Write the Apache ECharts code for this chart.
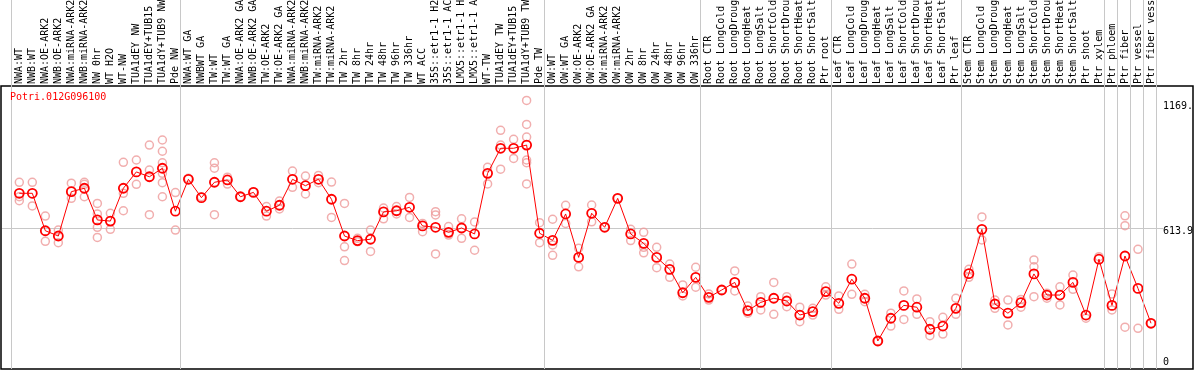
<!DOCTYPE html>
<html>
<head>
<meta charset="utf-8">
<script src="https://cdn.jsdelivr.net/npm/echarts@6/dist/echarts.min.js"></script>
<style>
html, body { margin: 0; padding: 0; background: #fff; }
#chart { width: 1194px; height: 370px; }
</style>
</head>
<body>
<div id="chart"></div>
<script>
const geneId = 'Potri.012G096100';

const categories = [
  'NWA:WT', 'NWB:WT', 'NWA:OE-ARK2', 'NWB:OE-ARK2', 'NWA:miRNA-ARK2', 'NWB:miRNA-ARK2',
  'NW 0hr', 'WT H2O', 'WT-NW', 'TUA1dEY NW', 'TUA1dEY+TUB15 NW', 'TUA1dY+TUB9 NW', 'Pde NW',
  'NWA:WT GA', 'NWBWT GA', 'TW:WT', 'TW:WT GA', 'NWA:OE-ARK2 GA', 'NWB:OE-ARK2 GA',
  'TW:OE-ARK2', 'TW:OE-ARK2 GA', 'NWA:miRNA-ARK2 GA', 'NWB:miRNA-ARK2 GA', 'TW:miRNA-ARK2',
  'TW:miRNA-ARK2 GA', 'TW 2hr', 'TW 8hr', 'TW 24hr', 'TW 48hr', 'TW 96hr', 'TW 336hr', 'WT ACC',
  '35S::etr1-1 H2O', '35S::etr1-1 ACC', 'LMX5::etr1-1 H2O', 'LMX5::etr1-1 ACC', 'WT-TW',
  'TUA1dEY TW', 'TUA1dEY+TUB15 TW', 'TUA1dY+TUB9 TW', 'Pde TW',
  'OW:WT', 'OW:WT GA', 'OW:OE-ARK2', 'OW:OE-ARK2 GA', 'OW:miRNA-ARK2', 'OW:miRNA-ARK2 GA',
  'OW 2hr', 'OW 8hr', 'OW 24hr', 'OW 48hr', 'OW 96hr', 'OW 336hr',
  'Root CTR', 'Root LongCold', 'Root LongDrought', 'Root LongHeat', 'Root LongSalt',
  'Root ShortCold', 'Root ShortDrought', 'Root ShortHeat', 'Root ShortSalt', 'Ptr root',
  'Leaf CTR', 'Leaf LongCold', 'Leaf LongDrought', 'Leaf LongHeat', 'Leaf LongSalt',
  'Leaf ShortCold', 'Leaf ShortDrought', 'Leaf ShortHeat', 'Leaf ShortSalt', 'Ptr leaf',
  'Stem CTR', 'Stem LongCold', 'Stem LongDrought', 'Stem LongHeat', 'Stem LongSalt',
  'Stem ShortCold', 'Stem ShortDrought', 'Stem ShortHeat', 'Stem ShortSalt', 'Ptr shoot',
  'Ptr xylem', 'Ptr phloem', 'Ptr fiber', 'Ptr vessel', 'Ptr fiber vessel'
];

// mean expression per sample
const meanValues = [
  765, 765, 602, 579, 772, 787, 649, 644, 787, 858,
  837, 874, 687, 826, 746, 813, 823, 750, 769, 687,
  713, 826, 798, 826, 739, 579, 559, 565, 684, 689,
  704, 623, 617, 595, 614, 588, 852, 961, 961, 975,
  591, 560, 675, 486, 678, 617, 743, 588, 547, 486,
  434, 332, 399, 312, 344, 377, 254, 290, 308, 296,
  235, 250, 337, 286, 391, 308, 122, 221, 277, 269,
  173, 187, 264, 415, 608, 283, 243, 289, 414, 322,
  322, 377, 235, 478, 277, 492, 351, 199
];

// individual replicates per sample
const replicateValues = [
  [813, 750, 733], [813, 710], [666, 556], [605, 550], [809, 743], [813, 804, 750],
  [721, 675, 617, 573], [678, 608], [900, 765, 689], [910, 804], [975, 866, 672],
  [997, 948, 898, 852, 811, 750], [768, 605],
  [830], [750], [898, 874, 672], [835, 805], [750], [772], [707, 666], [731, 697],
  [862, 791], [840, 762], [843, 811], [814, 660], [721, 532, 472], [569, 554], [605, 512],
  [701, 654], [707, 675], [747, 660], [634, 598], [685, 671, 501], [620, 583], [654, 569],
  [640, 517], [878, 806], [1039, 975, 870], [1000, 917], [1169.4, 1065, 1010, 910, 898, 806],
  [637, 550],
  [652, 540, 495], [713, 634], [526, 445], [714, 641], [617], [743], [608, 559],
  [595, 530, 506], [530, 441], [457, 399], [366, 318], [443, 356],
  [327, 300], [344], [427, 340], [274, 243], [315, 257], [377, 238], [315, 271],
  [269, 206], [264, 235], [358, 322],
  [318, 260], [457, 325], [325, 293], [122], [243, 187], [340, 216], [305, 238],
  [206, 145], [225, 152], [308, 238],
  [434, 399], [662, 562], [300, 264], [300, 192], [303, 269], [475, 445, 315], [330, 308],
  [358, 279], [409, 347], [221],
  [489], [327, 257], [667, 624, 182], [521, 177], [199]
];

// number of samples in each experiment block
const groupSizes = [13, 28, 12, 10, 10, 11, 1, 1, 1, 1];

const axisMax = 1227.8;

const maxValue = Math.max.apply(null, meanValues.concat([].concat.apply([], replicateValues)));

const repData = [];
replicateValues.forEach(function (arr, i) {
  arr.forEach(function (v) { repData.push([i, v]); });
});

const boundaries = [-0.5];
let acc = 0;
groupSizes.forEach(function (s) { acc += s; boundaries.push(acc - 0.5); });

const mono = 'DejaVu Sans Mono';
const bandLeft = 12.8;
const bandWidth = 13.008 * categories.length;

const chart = echarts.init(document.getElementById('chart'));

const option = {
  animation: false,
  backgroundColor: '#fff',
  title: {
    text: geneId,
    left: 10,
    top: 92,
    padding: 0,
    textStyle: { color: '#ff0000', fontFamily: mono, fontSize: 10, fontWeight: 'normal' }
  },
  grid: [
    // frame
    { left: 1, right: 1, top: 86, bottom: 1, show: true, borderColor: '#000', borderWidth: 1.5,
      backgroundColor: 'transparent', outerBoundsMode: 'none' },
    // group separators (run through the label area)
    { left: bandLeft - 1.5, width: bandWidth, top: 0, bottom: 1, outerBoundsMode: 'none' },
    // middle grid line
    { left: 2, right: 31, top: 87, bottom: 1, outerBoundsMode: 'none' },
    // data
    { left: bandLeft, width: bandWidth, top: 87, bottom: 1, outerBoundsMode: 'none' }
  ],
  xAxis: [
    { gridIndex: 0, type: 'value', show: false },
    { gridIndex: 1, type: 'value', min: -0.5, max: categories.length - 0.5, show: false },
    { gridIndex: 2, type: 'value', show: false },
    {
      gridIndex: 3,
      type: 'category',
      data: categories,
      position: 'top',
      boundaryGap: true,
      axisLine: { show: false },
      axisTick: { show: false },
      splitLine: { show: false },
      axisLabel: {
        interval: 0,
        rotate: 90,
        margin: 3,
        hideOverlap: false,
        color: '#000',
        fontFamily: mono,
        fontSize: 10
      }
    }
  ],
  yAxis: [
    { gridIndex: 0, type: 'value', show: false },
    { gridIndex: 1, type: 'value', min: 0, max: 1, show: false },
    {
      gridIndex: 2,
      type: 'value',
      min: 0,
      max: axisMax,
      interval: axisMax / 2,
      axisLine: { show: false },
      axisTick: { show: false },
      axisLabel: { show: false },
      splitLine: { show: true, showMinLine: false, showMaxLine: false,
        lineStyle: { color: '#c8c8c8', width: 1 } }
    },
    {
      gridIndex: 3,
      type: 'value',
      min: 0,
      max: axisMax,
      position: 'right',
      axisLine: { show: false },
      axisTick: { show: false },
      splitLine: { show: false },
      axisLabel: {
        customValues: [0, axisMax / 2, maxValue],
        margin: 5.5,
        align: 'left',
        color: '#000',
        fontFamily: mono,
        fontSize: 10,
        formatter: function (v) {
          const t = String(v).slice(0, 5);
          if (v === 0) return '{lo|' + t + '}';
          if (v === maxValue) return '{hi|' + t + '}';
          return '{mid|' + t + '}';
        },
        rich: {
          lo: { fontFamily: mono, fontSize: 10, color: '#000', padding: [0, 0, 14, 0] },
          mid: { fontFamily: mono, fontSize: 10, color: '#000', padding: [7, 0, 0, 0] },
          hi: { fontFamily: mono, fontSize: 10, color: '#000', padding: [12, 0, 0, 0] }
        }
      }
    }
  ],
  series: [
    {
      name: 'separators',
      type: 'line',
      xAxisIndex: 1,
      yAxisIndex: 1,
      data: [],
      markLine: {
        silent: true,
        symbol: ['none', 'none'],
        label: { show: false },
        lineStyle: { color: '#c8c8c8', type: 'solid', width: 1 },
        data: boundaries.map(function (b) { return { xAxis: b }; })
      }
    },
    {
      name: 'replicates',
      type: 'scatter',
      xAxisIndex: 3,
      yAxisIndex: 3,
      data: repData,
      symbol: 'circle',
      symbolSize: 8,
      itemStyle: { color: 'rgba(0,0,0,0)', borderColor: '#ee9a9a', borderWidth: 1.5 },
      z: 3
    },
    {
      name: 'mean',
      type: 'line',
      xAxisIndex: 3,
      yAxisIndex: 3,
      data: meanValues,
      symbol: 'circle',
      symbolSize: 9,
      showAllSymbol: true,
      lineStyle: { color: '#ff0000', width: 1 },
      itemStyle: { color: 'rgba(0,0,0,0)', borderColor: '#ff0000', borderWidth: 1.8 },
      z: 4
    }
  ]
};

chart.setOption(option);
</script>
</body>
</html>
